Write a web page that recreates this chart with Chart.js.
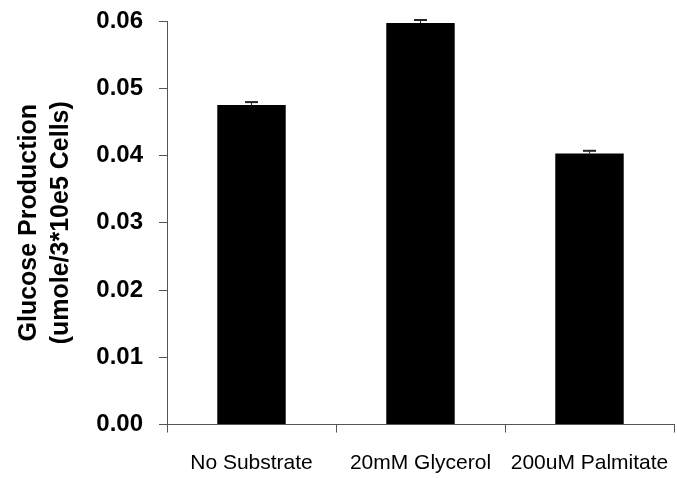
<!DOCTYPE html>
<html>
<head>
<meta charset="utf-8">
<script src="https://cdn.jsdelivr.net/npm/chart.js@4"></script>
<style>
  html, body { margin: 0; padding: 0; background: #fff; }
  #wrap { width: 677px; height: 478px; position: relative; }
</style>
</head>
<body>
<div id="wrap"><canvas id="glucoseChart"></canvas></div>
<script>
const categories = ['No Substrate', '20mM Glycerol', '200uM Palmitate'];
const glucose = [0.0475, 0.0597, 0.0403];
const glucoseErr = [0.00044, 0.00045, 0.0004];
const yTickLabels = ['0.00', '0.01', '0.02', '0.03', '0.04', '0.05', '0.06'];
const yTitle = ['Glucose Production', '(umole/3*10e5 Cells)'];

const axisColor = '#555';

// error bars, upward only, drawn through the y scale
const errorBars = {
    id: 'errorBars',
    afterDatasetsDraw(chart) {
        const ctx = chart.ctx;
        const y = chart.scales.y;
        const meta = chart.getDatasetMeta(0);
        ctx.save();
        ctx.strokeStyle = '#222';
        meta.data.forEach((bar, i) => {
            const top = y.getPixelForValue(glucose[i]);
            const hi = y.getPixelForValue(glucose[i] + glucoseErr[i]);
            ctx.lineWidth = 1;
            ctx.beginPath();
            ctx.moveTo(bar.x, top);
            ctx.lineTo(bar.x, hi);
            ctx.stroke();
            ctx.lineWidth = 2;
            ctx.beginPath();
            ctx.moveTo(bar.x - 6.5, hi);
            ctx.lineTo(bar.x + 6.5, hi);
            ctx.stroke();
        });
        ctx.restore();
    }
};

new Chart(document.getElementById('glucoseChart'), {
    type: 'bar',
    data: {
        labels: categories,
        datasets: [{
            data: glucose,
            backgroundColor: '#000',
            borderWidth: 0,
            categoryPercentage: 1,
            barPercentage: 0.405
        }]
    },
    options: {
        responsive: true,
        maintainAspectRatio: false,
        animation: false,
        layout: { padding: { left: 0, right: 3, top: 21, bottom: 0 } },
        plugins: {
            legend: { display: false },
            tooltip: { enabled: false }
        },
        scales: {
            x: {
                grid: {
                    offset: true,
                    drawOnChartArea: false,
                    drawTicks: true,
                    tickLength: 8,
                    color: axisColor
                },
                border: { display: true, color: axisColor, width: 1 },
                ticks: {
                    color: '#000',
                    font: { family: 'Arial, "Liberation Sans", sans-serif', size: 21 },
                    padding: 18,
                    maxRotation: 0,
                    autoSkip: false
                },
                afterFit(scale) {
                    scale.height = 53.5;
                    scale.paddingLeft = 0;
                    scale.paddingRight = 0;
                }
            },
            y: {
                min: 0,
                max: 0.06,
                ticks: {
                    stepSize: 0.01,
                    color: '#000',
                    font: { family: 'Arial, "Liberation Sans", sans-serif', size: 24, weight: 'bold' },
                    padding: 16,
                    callback: (v, i) => yTickLabels[i]
                },
                grid: {
                    drawOnChartArea: false,
                    drawTicks: true,
                    tickLength: 8,
                    color: axisColor
                },
                border: { display: true, color: axisColor, width: 1 },
                title: {
                    display: true,
                    text: yTitle,
                    color: '#000',
                    font: { family: 'Arial, "Liberation Sans", sans-serif', size: 25, weight: 'bold', lineHeight: 1.28 },
                    padding: { top: 13, bottom: 0 }
                },
                afterFit(scale) {
                    scale.width = 167;
                    scale.paddingTop = 0;
                    scale.paddingBottom = 0;
                }
            }
        }
    },
    plugins: [errorBars]
});
</script>
</body>
</html>
